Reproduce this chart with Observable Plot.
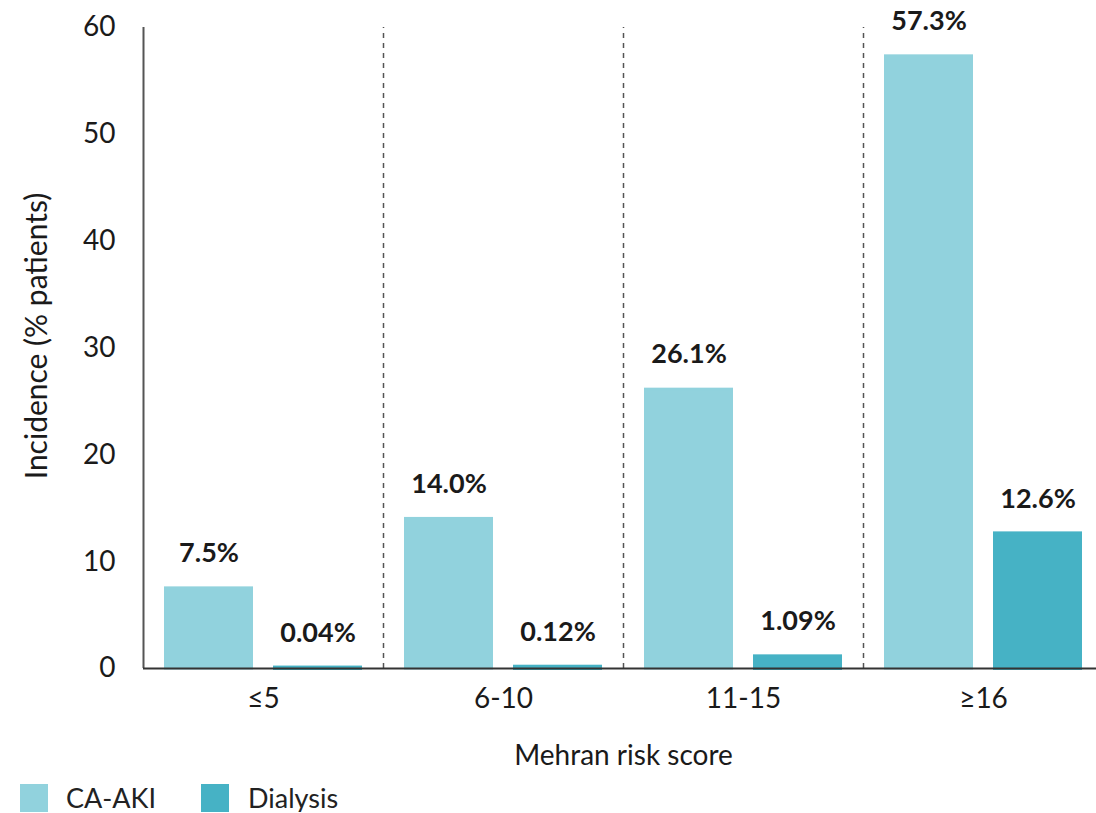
<!DOCTYPE html>
<html>
<head>
<meta charset="utf-8">
<script src="https://cdn.jsdelivr.net/npm/d3@7"></script>
<script src="https://cdn.jsdelivr.net/npm/@observablehq/plot@0.6"></script>
<style>
  html, body { margin: 0; padding: 0; background: #fff; }
  body { font-family: Lato, "Noto Sans", sans-serif; width: 1096px; }
  #chart svg { display: block; }
  #legend { position: relative; height: 28px; margin-top: 10px; font-size: 27px; line-height: 28px; color: #222; }
  .sw { position: absolute; top: 0; width: 28px; height: 28px; }
  .lab { position: absolute; top: 0; white-space: nowrap; }
</style>
</head>
<body>
<div id="chart"></div>
<div id="legend"></div>
<script>
// Mehran risk score groups
const categories = ["≤5", "6-10", "11-15", "≥16"];
const series = ["CA-AKI", "Dialysis"];
const caAki = [7.5, 14.0, 26.1, 57.3];
const dialysis = [0.04, 0.12, 1.09, 12.6];
const labelsCaAki = ["7.5%", "14.0%", "26.1%", "57.3%"];
const labelsDialysis = ["0.04%", "0.12%", "1.09%", "12.6%"];
const yTicks = [0, 10, 20, 30, 40, 50, 60];
const colors = ["#91d2dd", "#46b2c5"];

const rowsA = categories.map((c, i) => ({cat: c, value: caAki[i], label: labelsCaAki[i]}));
const rowsD = categories.map((c, i) => ({cat: c, value: dialysis[i], label: labelsDialysis[i]}));

const font = "Lato, 'Noto Sans', sans-serif";
const groupW = 240;           // width of one risk-score group
const half = groupW / 2;
const barOff = 54.5;          // bar centre offset from group centre

const chart = Plot.plot({
  width: 1096,
  height: 774,
  marginLeft: 143,
  marginRight: -7,
  marginTop: 27,
  marginBottom: 106,
  style: {fontFamily: font, fontSize: "28px", color: "#1a1a1a", background: "#fff"},
  x: {domain: categories, padding: 0, label: null},
  y: {domain: [0, 60], label: null},
  marks: [
    // group separators (solid on the first group = the y-axis line)
    Plot.ruleX([categories[0]], {x: d => d, dx: -half, y1: 0, y2: 60, stroke: "#555", strokeWidth: 2}),
    Plot.ruleX(categories.slice(1), {x: d => d, dx: -half, y1: 0, y2: 60, stroke: "#555", strokeWidth: 1.5, strokeDasharray: "5,5"}),
    Plot.barY(rowsA, {x: "cat", y: "value", fill: colors[0], stroke: colors[0], strokeWidth: 3, insetLeft: 22.5, insetRight: 131.5}),
    Plot.barY(rowsD, {x: "cat", y: "value", fill: colors[1], stroke: colors[1], strokeWidth: 4, insetLeft: 132, insetRight: 23}),
    Plot.ruleY([0], {stroke: "#333", strokeWidth: 2}),
    Plot.text(rowsA, {x: "cat", y: "value", text: "label", dx: -barOff, dy: -35, fontWeight: "bold", fontSize: 27, fill: "#1a1a1a"}),
    Plot.text(rowsD, {x: "cat", y: "value", text: "label", dx: barOff, dy: -35, fontWeight: "bold", fontSize: 27, fill: "#1a1a1a"}),
    Plot.axisY({ticks: yTicks, tickSize: 0, tickPadding: 28, fontSize: 28, label: null}),
    Plot.text(["Incidence (% patients)"], {frameAnchor: "left", textAnchor: "middle", dx: -106, dy: -12, rotate: -90, fontSize: 30, fill: "#1a1a1a"}),
    Plot.axisX({tickSize: 0, tickPadding: 20, fontSize: 28,
      label: "Mehran risk score", labelAnchor: "center", labelArrow: "none", labelOffset: 96})
  ]
});
document.getElementById("chart").appendChild(chart);

// legend below the chart
const legend = document.getElementById("legend");
const swatchX = [20, 201];
const textX = [66, 248];
series.forEach((s, i) => {
  const sw = document.createElement("span");
  sw.className = "sw";
  sw.style.left = swatchX[i] + "px";
  sw.style.background = colors[i];
  const lab = document.createElement("span");
  lab.className = "lab";
  lab.style.left = textX[i] + "px";
  lab.textContent = s;
  legend.appendChild(sw);
  legend.appendChild(lab);
});
</script>
</body>
</html>
